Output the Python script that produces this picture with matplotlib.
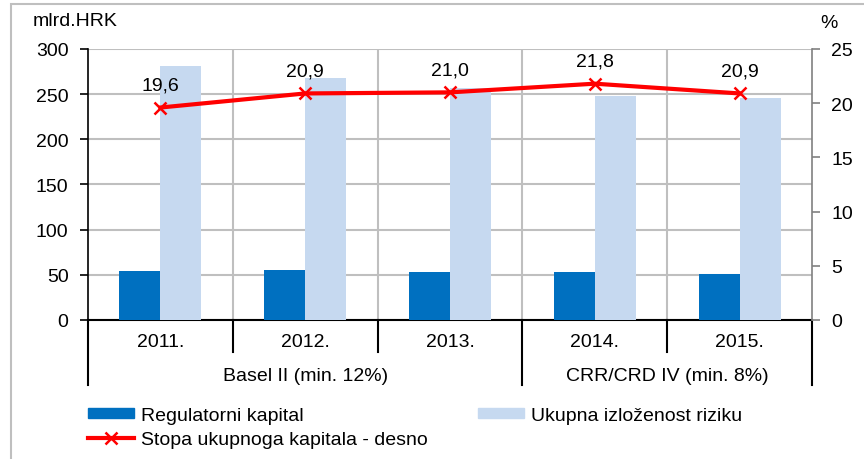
import matplotlib.pyplot as plt
import numpy as np
from matplotlib.patches import Rectangle, Patch
from matplotlib.lines import Line2D

plt.rcParams['font.family'] = ['Liberation Sans', 'DejaVu Sans']
plt.rcParams['font.size'] = 14

years = ['2011.', '2012.', '2013.', '2014.', '2015.']
regulatorni = [54.6, 55.7, 53.2, 53.5, 51.0]
izlozenost = [281.5, 267.6, 257.0, 248.0, 245.5]
stopa = [19.6, 20.9, 21.0, 21.8, 20.9]
stopa_labels = ['19,6', '20,9', '21,0', '21,8', '20,9']
groups = ['Basel II (min. 12%)', 'CRR/CRD IV (min. 8%)']
group_spans = [(0, 3), (3, 5)]

dark = '#0070C0'
light = '#C6D9F0'
grid = '#BFBFBF'

fig = plt.figure(figsize=(8.64, 4.6), dpi=100)
ax = fig.add_axes([88/864, 1-321/460, (812-88)/864, (321-50)/460])
ax2 = ax.twinx()

x = np.arange(len(years)) + 0.5
w = 0.283
ax.bar(x - w/2, regulatorni, w, color=dark, zorder=3)
ax.bar(x + w/2, izlozenost, w, color=light, zorder=3)

ax.set_xlim(0, 5)
ax.set_ylim(0, 300)
ax.set_yticks(range(0, 301, 50))
ax.yaxis.grid(True, color=grid, lw=1.5, zorder=0)
for b in range(1, 5):
    ax.axvline(b, color=grid, lw=1.5, zorder=0)
ax.set_xticks([])
ax.tick_params(axis='y', direction='out', length=6, width=1.2, pad=8, colors='black')
for s in ['top', 'right']:
    ax.spines[s].set_visible(False)
ax.spines['left'].set_linewidth(1.2)
ax.spines['bottom'].set_linewidth(1.5)

ax2.plot(x, stopa, color='#FF0000', lw=3, marker='x', ms=9, mew=1.8, zorder=5)
ax2.set_ylim(0, 25)
ax2.set_yticks(range(0, 26, 5))
ax2.tick_params(axis='y', direction='out', length=6, width=1.2, pad=8, color='#808080')
for s in ['top', 'left', 'bottom']:
    ax2.spines[s].set_visible(False)
ax2.spines['right'].set_color('#808080')
ax2.spines['right'].set_linewidth(1.2)
for xi, v, t in zip(x, stopa, stopa_labels):
    ax2.annotate(t, (xi, v), xytext=(0, 16), textcoords='offset points',
                 ha='center', va='center')

# category axis below the plot
tr = ax.get_xaxis_transform()
for b in [1, 2, 4]:
    ax.plot([b, b], [0, -0.119], transform=tr, color='black', lw=1.5, clip_on=False)
for b in [0, 3, 5]:
    ax.plot([b, b], [0, -0.239], transform=tr, color='black', lw=1.5, clip_on=False)
for xi, t in zip(x, years):
    ax.text(xi, -0.08, t, transform=tr, ha='center', va='center')
for (a, b), g in zip(group_spans, groups):
    ax.text((a + b) / 2, -0.203, g, transform=tr, ha='center', va='center')

fig.text(33/864, 1-22/460, 'mlrd.HRK', ha='left', va='center')
fig.text(829/864, 1-23/460, '%', ha='center', va='center')

handles = [Patch(color=dark), Line2D([], [], color='#FF0000', lw=3, marker='x', ms=9, mew=1.8),
           Patch(color=light)]
labels = ['Regulatorni kapital', 'Stopa ukupnoga kapitala - desno', 'Ukupna izloženost riziku']
fig.legend(handles, labels, ncol=2, loc='upper left', bbox_to_anchor=(80/864, 1-400/460),
           frameon=False, handlelength=2.37, handleheight=0.46, handletextpad=0.36,
           columnspacing=2.6, labelspacing=0.38, borderaxespad=0)

fig.patches.append(Rectangle((11/864, -0.1), 1.2, 1.1 - 5/460, transform=fig.transFigure,
                             fill=False, edgecolor=grid, lw=1.5))

fig.savefig('out.png', dpi=100)
